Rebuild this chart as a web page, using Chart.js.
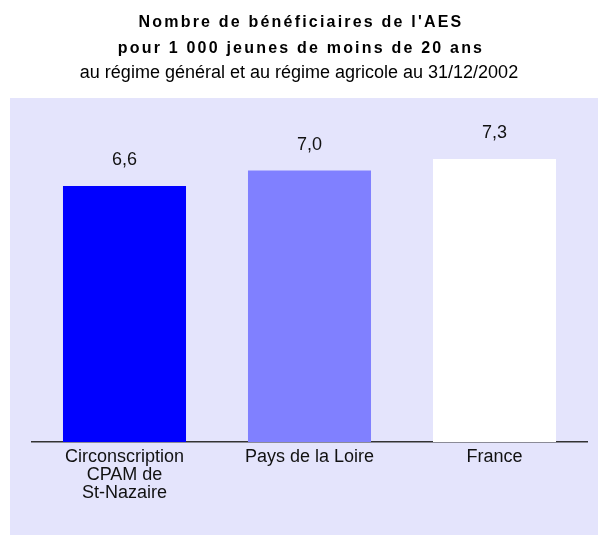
<!DOCTYPE html>
<html>
<head>
<meta charset="utf-8">
<script src="https://cdn.jsdelivr.net/npm/chart.js@4/dist/chart.umd.min.js"></script>
<style>
  html, body { margin: 0; padding: 0; background: #fff; }
  #wrap { position: relative; width: 598px; height: 535px; font-family: "Liberation Sans", Arial, sans-serif; }
  #titles { position: absolute; left: 0; top: 0; width: 598px; text-align: center; color: #000; z-index: 2; }
  .t { position: absolute; left: 0; width: 598px; white-space: nowrap; }
  .b { font-weight: bold; font-size: 16px; letter-spacing: 2.2px; padding-left: 4px; box-sizing: border-box; }
  .n { font-size: 18px; }
  canvas { position: absolute; left: 0; top: 0; }
</style>
</head>
<body>
<div id="wrap">
  <div id="titles">
    <div class="t b" style="top:13px">Nombre de bénéficiaires de l'AES</div>
    <div class="t b" style="top:39px">pour 1 000 jeunes de moins de 20 ans</div>
    <div class="t n" style="top:62px">au régime général et au régime agricole au 31/12/2002</div>
  </div>
  <canvas id="myChart" width="598" height="535"></canvas>
</div>
<script>
// données
const categories = [["Circonscription", "CPAM de", "St-Nazaire"], "Pays de la Loire", "France"];
const values = [6.6, 7.0, 7.3];
const barColors = ["#0000FF", "#8080FF", "#FFFFFF"];

const FONT = "'Liberation Sans', Arial, sans-serif";

// fond lavande derrière le graphique
const bgPlugin = {
  id: "bg",
  beforeDraw(chart) {
    const ctx = chart.ctx;
    ctx.save();
    ctx.fillStyle = "#E4E4FC";
    ctx.fillRect(10, 98, chart.width - 10, chart.height - 98);
    ctx.restore();
  }
};

// étiquettes de valeur au-dessus des barres
const valueLabels = {
  id: "valueLabels",
  afterDatasetsDraw(chart) {
    const ctx = chart.ctx;
    const meta = chart.getDatasetMeta(0);
    ctx.save();
    ctx.font = "18px " + FONT;
    ctx.fillStyle = "#111";
    ctx.textAlign = "center";
    ctx.textBaseline = "middle";
    meta.data.forEach((bar, i) => {
      ctx.fillText(values[i].toFixed(1).replace(".", ","), bar.x, bar.y - 26);
    });
    ctx.restore();
  }
};

Chart.defaults.font.family = FONT;

new Chart(document.getElementById("myChart"), {
  type: "bar",
  data: {
    labels: categories,
    datasets: [{
      data: values,
      backgroundColor: barColors,
      borderWidth: 0,
      categoryPercentage: 1,
      barPercentage: 0.665
    }]
  },
  options: {
    responsive: false,
    animation: false,
    layout: { padding: { left: 32, right: 11, top: 93, bottom: 27 } },
    plugins: {
      legend: { display: false },
      tooltip: { enabled: false }
    },
    scales: {
      x: {
        grid: { display: false, drawTicks: false },
        border: { display: true, color: "#333", width: 1.5 },
        ticks: {
          color: "#111",
          padding: 6,
          maxRotation: 0,
          autoSkip: false,
          font: { size: 18, lineHeight: 1.0 }
        }
      },
      y: {
        display: false,
        min: 0,
        max: 9
      }
    }
  },
  plugins: [bgPlugin, valueLabels]
});
</script>
</body>
</html>
